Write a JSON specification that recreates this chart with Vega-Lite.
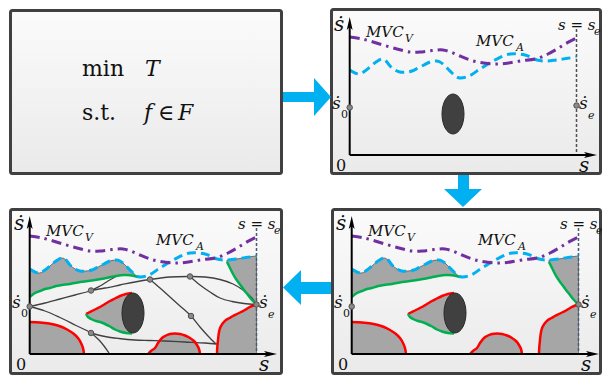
{
  "$schema": "https://vega.github.io/schema/vega-lite/v6.json",
  "width": 602,
  "height": 377,
  "padding": 0,
  "autosize": {"type": "none"},
  "config": {"view": {"stroke": null}},
  "resolve": {"scale": {"x": "independent", "y": "independent"}},
  "datasets": {
    "rects": [
      {"x": 10.5, "x2": 281.5, "y": 10.5, "y2": 173.5},
      {"x": 331.5, "x2": 600.5, "y": 9.5, "y2": 173.5},
      {"x": 10.5, "x2": 281.5, "y": 209.5, "y2": 373.5},
      {"x": 332.5, "x2": 600.5, "y": 209.5, "y2": 373.5}
    ],
    "shafts": [
      {"x": 283, "x2": 315, "y": 92, "y2": 102},
      {"x": 458, "x2": 469, "y": 175, "y2": 190},
      {"x": 300, "x2": 331, "y": 282, "y2": 294}
    ],
    "headsV": [
      {"g": 1, "x": 314, "y": 78, "y2": 116},
      {"g": 1, "x": 331, "y": 97, "y2": 97},
      {"g": 2, "x": 283, "y": 287.5, "y2": 287.5},
      {"g": 2, "x": 301, "y": 270, "y2": 305}
    ],
    "headsH": [
      {"y": 189, "x": 444, "x2": 482},
      {"y": 207, "x": 463, "x2": 463}
    ],
    "p1norm": [
      {"x": 82, "y": 76, "t": "min"},
      {"x": 82, "y": 120, "t": "s.t."},
      {"x": 158, "y": 120, "t": "∈"}
    ],
    "p1ital": [
      {"x": 145, "y": 76, "t": "T"},
      {"x": 144, "y": 120, "t": "f"},
      {"x": 178, "y": 120, "t": "F"}
    ],
    "areasV": [
      {"g": "G1", "x": 29.7, "y": 269, "y2": 297},
      {"g": "G1", "x": 35, "y": 272, "y2": 293},
      {"g": "G1", "x": 40, "y": 273, "y2": 291},
      {"g": "G1", "x": 45, "y": 270, "y2": 289},
      {"g": "G1", "x": 50, "y": 266, "y2": 288},
      {"g": "G1", "x": 56, "y": 261, "y2": 286},
      {"g": "G1", "x": 62, "y": 258, "y2": 285},
      {"g": "G1", "x": 66, "y": 260, "y2": 284.5},
      {"g": "G1", "x": 70, "y": 265, "y2": 284},
      {"g": "G1", "x": 75, "y": 269, "y2": 283},
      {"g": "G1", "x": 80, "y": 271, "y2": 282},
      {"g": "G1", "x": 86, "y": 271, "y2": 281.5},
      {"g": "G1", "x": 92, "y": 270, "y2": 280.5},
      {"g": "G1", "x": 98, "y": 267, "y2": 279.5},
      {"g": "G1", "x": 104, "y": 264, "y2": 278.5},
      {"g": "G1", "x": 110, "y": 261, "y2": 277.5},
      {"g": "G1", "x": 116, "y": 260, "y2": 276},
      {"g": "G1", "x": 120, "y": 261, "y2": 275.5},
      {"g": "G1", "x": 124, "y": 264, "y2": 275},
      {"g": "G1", "x": 128, "y": 268, "y2": 275},
      {"g": "G1", "x": 132, "y": 272, "y2": 275.5},
      {"g": "G1", "x": 136, "y": 275.5, "y2": 276.5},
      {"g": "G1", "x": 138, "y": 277, "y2": 277},
      {"g": "G2", "x": 227, "y": 260, "y2": 262},
      {"g": "G2", "x": 230, "y": 260, "y2": 268},
      {"g": "G2", "x": 233, "y": 259.5, "y2": 274},
      {"g": "G2", "x": 236, "y": 259, "y2": 279},
      {"g": "G2", "x": 240, "y": 258.5, "y2": 284.5},
      {"g": "G2", "x": 244, "y": 257.5, "y2": 290},
      {"g": "G2", "x": 248, "y": 257, "y2": 295},
      {"g": "G2", "x": 252, "y": 256.5, "y2": 300},
      {"g": "G2", "x": 256.5, "y": 256, "y2": 304.5},
      {"g": "G3", "x": 29.7, "y": 322, "y2": 354},
      {"g": "G3", "x": 40, "y": 322.5, "y2": 354},
      {"g": "G3", "x": 49, "y": 323.5, "y2": 354},
      {"g": "G3", "x": 56, "y": 325, "y2": 354},
      {"g": "G3", "x": 62, "y": 327, "y2": 354},
      {"g": "G3", "x": 68, "y": 330, "y2": 354},
      {"g": "G3", "x": 74, "y": 334, "y2": 354},
      {"g": "G3", "x": 78, "y": 338, "y2": 354},
      {"g": "G3", "x": 81, "y": 343, "y2": 354},
      {"g": "G3", "x": 83, "y": 348, "y2": 354},
      {"g": "G3", "x": 84, "y": 354, "y2": 354},
      {"g": "G4", "x": 86, "y": 314, "y2": 314},
      {"g": "G4", "x": 88, "y": 313, "y2": 317},
      {"g": "G4", "x": 92, "y": 311, "y2": 319.5},
      {"g": "G4", "x": 96, "y": 309, "y2": 321},
      {"g": "G4", "x": 100, "y": 307, "y2": 322},
      {"g": "G4", "x": 105, "y": 304, "y2": 324},
      {"g": "G4", "x": 110, "y": 301, "y2": 326.5},
      {"g": "G4", "x": 115, "y": 298.5, "y2": 329.5},
      {"g": "G4", "x": 120, "y": 296, "y2": 331.5},
      {"g": "G4", "x": 126, "y": 294, "y2": 333},
      {"g": "G4", "x": 132, "y": 293, "y2": 333.5},
      {"g": "G5", "x": 148, "y": 354, "y2": 354},
      {"g": "G5", "x": 151, "y": 351, "y2": 354},
      {"g": "G5", "x": 155, "y": 348, "y2": 354},
      {"g": "G5", "x": 158, "y": 343, "y2": 354},
      {"g": "G5", "x": 162, "y": 338, "y2": 354},
      {"g": "G5", "x": 166, "y": 335.5, "y2": 354},
      {"g": "G5", "x": 170, "y": 334, "y2": 354},
      {"g": "G5", "x": 175, "y": 333.5, "y2": 354},
      {"g": "G5", "x": 180, "y": 334, "y2": 354},
      {"g": "G5", "x": 185, "y": 335.5, "y2": 354},
      {"g": "G5", "x": 190, "y": 338, "y2": 354},
      {"g": "G5", "x": 194, "y": 341, "y2": 354},
      {"g": "G5", "x": 197, "y": 345, "y2": 354},
      {"g": "G5", "x": 199, "y": 349, "y2": 354},
      {"g": "G5", "x": 200, "y": 354, "y2": 354}
    ],
    "areasH": [
      {"y": 304.5, "x": 256.5, "x2": 256.5},
      {"y": 306, "x": 252, "x2": 256.5},
      {"y": 308, "x": 248, "x2": 256.5},
      {"y": 310, "x": 245, "x2": 256.5},
      {"y": 312, "x": 241, "x2": 256.5},
      {"y": 314, "x": 237, "x2": 256.5},
      {"y": 316, "x": 233, "x2": 256.5},
      {"y": 318, "x": 229.5, "x2": 256.5},
      {"y": 320, "x": 226, "x2": 256.5},
      {"y": 323, "x": 223, "x2": 256.5},
      {"y": 327, "x": 220.5, "x2": 256.5},
      {"y": 332, "x": 219, "x2": 256.5},
      {"y": 340, "x": 218, "x2": 256.5},
      {"y": 347, "x": 217.3, "x2": 256.5},
      {"y": 354, "x": 217, "x2": 256.5}
    ],
    "red": [
      {"g": "a", "x": 29.7, "y": 322}, {"g": "a", "x": 40, "y": 322.5}, {"g": "a", "x": 49, "y": 323.5}, {"g": "a", "x": 56, "y": 325}, {"g": "a", "x": 62, "y": 327}, {"g": "a", "x": 68, "y": 330}, {"g": "a", "x": 74, "y": 334}, {"g": "a", "x": 78, "y": 338}, {"g": "a", "x": 81, "y": 343}, {"g": "a", "x": 83, "y": 348}, {"g": "a", "x": 84, "y": 354},
      {"g": "b", "x": 86, "y": 314}, {"g": "b", "x": 88, "y": 313}, {"g": "b", "x": 92, "y": 311}, {"g": "b", "x": 96, "y": 309}, {"g": "b", "x": 100, "y": 307}, {"g": "b", "x": 105, "y": 304}, {"g": "b", "x": 110, "y": 301}, {"g": "b", "x": 115, "y": 298.5}, {"g": "b", "x": 120, "y": 296}, {"g": "b", "x": 126, "y": 294}, {"g": "b", "x": 132, "y": 293},
      {"g": "c", "x": 148, "y": 354}, {"g": "c", "x": 151, "y": 351}, {"g": "c", "x": 155, "y": 348}, {"g": "c", "x": 158, "y": 343}, {"g": "c", "x": 162, "y": 338}, {"g": "c", "x": 166, "y": 335.5}, {"g": "c", "x": 170, "y": 334}, {"g": "c", "x": 175, "y": 333.5}, {"g": "c", "x": 180, "y": 334}, {"g": "c", "x": 185, "y": 335.5}, {"g": "c", "x": 190, "y": 338}, {"g": "c", "x": 194, "y": 341}, {"g": "c", "x": 197, "y": 345}, {"g": "c", "x": 199, "y": 349}, {"g": "c", "x": 200, "y": 354},
      {"g": "d", "x": 217, "y": 354}, {"g": "d", "x": 217.3, "y": 347}, {"g": "d", "x": 218, "y": 340}, {"g": "d", "x": 219, "y": 332}, {"g": "d", "x": 220.5, "y": 327}, {"g": "d", "x": 223, "y": 323}, {"g": "d", "x": 226, "y": 320}, {"g": "d", "x": 229.5, "y": 318}, {"g": "d", "x": 233, "y": 316}, {"g": "d", "x": 237, "y": 314}, {"g": "d", "x": 241, "y": 312}, {"g": "d", "x": 245, "y": 310}, {"g": "d", "x": 248, "y": 308}, {"g": "d", "x": 252, "y": 306}, {"g": "d", "x": 256.5, "y": 304.5}
    ],
    "green": [
      {"g": "a", "x": 29.7, "y": 297}, {"g": "a", "x": 35, "y": 293}, {"g": "a", "x": 40, "y": 291}, {"g": "a", "x": 45, "y": 289}, {"g": "a", "x": 50, "y": 288}, {"g": "a", "x": 56, "y": 286}, {"g": "a", "x": 62, "y": 285}, {"g": "a", "x": 70, "y": 284}, {"g": "a", "x": 80, "y": 282}, {"g": "a", "x": 92, "y": 280.5}, {"g": "a", "x": 104, "y": 278.5}, {"g": "a", "x": 116, "y": 276}, {"g": "a", "x": 124, "y": 275}, {"g": "a", "x": 130, "y": 275.2}, {"g": "a", "x": 138, "y": 277},
      {"g": "b", "x": 227, "y": 262}, {"g": "b", "x": 230, "y": 268}, {"g": "b", "x": 233, "y": 274}, {"g": "b", "x": 236, "y": 279}, {"g": "b", "x": 240, "y": 284.5}, {"g": "b", "x": 244, "y": 290}, {"g": "b", "x": 248, "y": 295}, {"g": "b", "x": 252, "y": 300}, {"g": "b", "x": 256.5, "y": 304.5},
      {"g": "c", "x": 86, "y": 314}, {"g": "c", "x": 88, "y": 317}, {"g": "c", "x": 92, "y": 319.5}, {"g": "c", "x": 96, "y": 321}, {"g": "c", "x": 100, "y": 322}, {"g": "c", "x": 105, "y": 324}, {"g": "c", "x": 110, "y": 326.5}, {"g": "c", "x": 115, "y": 329.5}, {"g": "c", "x": 120, "y": 331.5}, {"g": "c", "x": 126, "y": 333}, {"g": "c", "x": 132, "y": 333.5}
    ],
    "traj": [
      {"g": 1, "x": 29.7, "y": 306.5}, {"g": 1, "x": 45, "y": 303}, {"g": 1, "x": 60, "y": 299}, {"g": 1, "x": 75, "y": 295}, {"g": 1, "x": 91, "y": 290.5}, {"g": 1, "x": 100, "y": 286}, {"g": 1, "x": 108, "y": 281}, {"g": 1, "x": 116, "y": 276.5},
      {"g": 2, "x": 91, "y": 290.5}, {"g": 2, "x": 105, "y": 288}, {"g": 2, "x": 120, "y": 285}, {"g": 2, "x": 135, "y": 282}, {"g": 2, "x": 150, "y": 279.5}, {"g": 2, "x": 170, "y": 277}, {"g": 2, "x": 190, "y": 276.5}, {"g": 2, "x": 205, "y": 277}, {"g": 2, "x": 220, "y": 279.5}, {"g": 2, "x": 233, "y": 284}, {"g": 2, "x": 243, "y": 290}, {"g": 2, "x": 251, "y": 297}, {"g": 2, "x": 256.5, "y": 304.5},
      {"g": 3, "x": 29.7, "y": 306.5}, {"g": 3, "x": 45, "y": 311}, {"g": 3, "x": 59, "y": 317}, {"g": 3, "x": 76, "y": 325.5}, {"g": 3, "x": 91, "y": 333}, {"g": 3, "x": 99, "y": 340}, {"g": 3, "x": 104, "y": 346}, {"g": 3, "x": 109, "y": 353},
      {"g": 4, "x": 91, "y": 333}, {"g": 4, "x": 105, "y": 336.5}, {"g": 4, "x": 119, "y": 338.5}, {"g": 4, "x": 135, "y": 340}, {"g": 4, "x": 149, "y": 340.5}, {"g": 4, "x": 165, "y": 341}, {"g": 4, "x": 185, "y": 342}, {"g": 4, "x": 205, "y": 343}, {"g": 4, "x": 217, "y": 344},
      {"g": 5, "x": 150, "y": 279.5}, {"g": 5, "x": 160, "y": 288}, {"g": 5, "x": 170, "y": 297}, {"g": 5, "x": 180, "y": 306}, {"g": 5, "x": 191, "y": 316}, {"g": 5, "x": 200, "y": 327}, {"g": 5, "x": 208, "y": 336}, {"g": 5, "x": 216, "y": 344},
      {"g": 6, "x": 190, "y": 276.5}, {"g": 6, "x": 200, "y": 285}, {"g": 6, "x": 210, "y": 292}, {"g": 6, "x": 220, "y": 298}, {"g": 6, "x": 232, "y": 301.5}, {"g": 6, "x": 244, "y": 303.5}, {"g": 6, "x": 256.5, "y": 304.5}
    ],
    "tdots": [
      {"x": 91, "y": 290.5}, {"x": 91, "y": 333}, {"x": 150, "y": 279.5}, {"x": 190, "y": 276.5}, {"x": 191, "y": 316}
    ],
    "mvca": [
      {"x": 29.7, "y": 269}, {"x": 35, "y": 272}, {"x": 40, "y": 273}, {"x": 45, "y": 270}, {"x": 50, "y": 266}, {"x": 56, "y": 261}, {"x": 62, "y": 258}, {"x": 66, "y": 260}, {"x": 70, "y": 265}, {"x": 75, "y": 269}, {"x": 80, "y": 271}, {"x": 86, "y": 271}, {"x": 92, "y": 270}, {"x": 98, "y": 267}, {"x": 104, "y": 264}, {"x": 110, "y": 261}, {"x": 116, "y": 260}, {"x": 120, "y": 261}, {"x": 124, "y": 264}, {"x": 128, "y": 268}, {"x": 132, "y": 272}, {"x": 136, "y": 275.5}, {"x": 140, "y": 277}, {"x": 149, "y": 275}, {"x": 160, "y": 268}, {"x": 175, "y": 259}, {"x": 190, "y": 253}, {"x": 205, "y": 254}, {"x": 217, "y": 259}, {"x": 227, "y": 260}, {"x": 236, "y": 259}, {"x": 246, "y": 257.5}, {"x": 256.5, "y": 256}
    ],
    "mvcv": [
      {"x": 29.7, "y": 236}, {"x": 40, "y": 237.5}, {"x": 50, "y": 240}, {"x": 63, "y": 244}, {"x": 77, "y": 248}, {"x": 90, "y": 251}, {"x": 100, "y": 251}, {"x": 112, "y": 249.5}, {"x": 123, "y": 249}, {"x": 132, "y": 251.5}, {"x": 140, "y": 255}, {"x": 150, "y": 259}, {"x": 160, "y": 261.5}, {"x": 173, "y": 263}, {"x": 185, "y": 262.5}, {"x": 200, "y": 260}, {"x": 217, "y": 257.5}, {"x": 228, "y": 253}, {"x": 237, "y": 248}, {"x": 246, "y": 242.5}, {"x": 256.5, "y": 237}
    ],
    "ell": [{"x": 133, "y": 313}],
    "vline": [{"x": 256.5, "y": 228, "x2": 256.5, "y2": 354}],
    "axes": [
      {"x": 29.7, "y": 354, "x2": 29.7, "y2": 224},
      {"x": 29.7, "y": 354, "x2": 269, "y2": 354}
    ],
    "aheads": [
      {"x": 29.7, "y": 222.5, "d": "up"},
      {"x": 270.5, "y": 354, "d": "right"}
    ],
    "dots": [{"x": 29.7, "y": 306.5}, {"x": 256.5, "y": 304.5}],
    "lbl24": [{"x": 19, "y": 230, "t": "ṡ"}, {"x": 264, "y": 371, "t": "s"}],
    "lbl17": [{"x": 46, "y": 236, "t": "MVC"}, {"x": 156, "y": 245, "t": "MVC"}, {"x": 238, "y": 229, "t": "s = s"}],
    "lblsubI": [{"x": 85, "y": 241, "t": "V"}, {"x": 196, "y": 250, "t": "A"}, {"x": 274, "y": 234, "t": "e"}, {"x": 268, "y": 318, "t": "e"}],
    "lbl21": [{"x": 12, "y": 308, "t": "ṡ"}, {"x": 259, "y": 308, "t": "ṡ"}],
    "lblsubN": [{"x": 21, "y": 317, "t": "0"}],
    "lbl0": [{"x": 16, "y": 370, "t": "0"}]
  },
  "layer": [
    {
      "encoding": {
        "x": {"field": "x", "type": "quantitative", "scale": {"domain": [0, 602], "nice": false, "zero": false}, "axis": null},
        "y": {"field": "y", "type": "quantitative", "scale": {"domain": [0, 377], "nice": false, "zero": false, "reverse": true}, "axis": null}
      },
      "layer": [
        {"data": {"name": "rects"}, "mark": {"type": "rect", "stroke": "#404040", "strokeWidth": 3, "cornerRadius": 2, "fill": {"gradient": "linear", "x1": 0, "y1": 0, "x2": 0, "y2": 1, "stops": [{"offset": 0, "color": "#fbfbfb"}, {"offset": 1, "color": "#eaeaea"}]}}, "encoding": {"x2": {"field": "x2"}, "y2": {"field": "y2"}}},
        {"data": {"name": "shafts"}, "mark": {"type": "rect", "fill": "#00b0f0"}, "encoding": {"x2": {"field": "x2"}, "y2": {"field": "y2"}}},
        {"data": {"name": "headsV"}, "mark": {"type": "area", "fill": "#00b0f0", "orient": "vertical"}, "encoding": {"y2": {"field": "y2"}, "detail": {"field": "g", "type": "nominal"}}},
        {"data": {"name": "headsH"}, "mark": {"type": "area", "fill": "#00b0f0", "orient": "horizontal"}, "encoding": {"x2": {"field": "x2"}}},
        {"data": {"name": "p1norm"}, "mark": {"type": "text", "font": "DejaVu Serif", "fontSize": 22, "align": "left", "baseline": "alphabetic", "color": "#111"}, "encoding": {"text": {"field": "t"}}},
        {"data": {"name": "p1ital"}, "mark": {"type": "text", "font": "DejaVu Serif", "fontStyle": "italic", "fontSize": 22, "align": "left", "baseline": "alphabetic", "color": "#111"}, "encoding": {"text": {"field": "t"}}}
      ]
    },
    {
      "encoding": {
        "x": {"field": "x", "type": "quantitative", "scale": {"domain": [-320, 282], "nice": false, "zero": false}, "axis": null},
        "y": {"field": "y", "type": "quantitative", "scale": {"domain": [199, 576], "nice": false, "zero": false, "reverse": true}, "axis": null}
      },
      "layer": [
        {"data": {"name": "vline"}, "mark": {"type": "rule", "color": "#505050", "strokeWidth": 1.5, "strokeDash": [3, 2]}, "encoding": {"x2": {"field": "x2"}, "y2": {"field": "y2"}}},
        {"data": {"name": "mvca"}, "mark": {"type": "line", "color": "#00b0f0", "strokeWidth": 3, "strokeDash": [9, 5], "interpolate": "catmull-rom"}},
        {"data": {"name": "mvcv"}, "mark": {"type": "line", "color": "#7030a0", "strokeWidth": 3, "strokeDash": [10, 5, 2.5, 5], "interpolate": "catmull-rom"}},
        {"data": {"name": "ell"}, "mark": {"type": "point", "shape": "M0,-1A0.55,1 0 1,1 0,1A0.55,1 0 1,1 0,-1Z", "size": 1600, "filled": true, "opacity": 1, "fill": "#404040", "stroke": "#2a2a2a", "strokeWidth": 1}},
        {"data": {"name": "axes"}, "mark": {"type": "rule", "color": "#000", "strokeWidth": 2}, "encoding": {"x2": {"field": "x2"}, "y2": {"field": "y2"}}},
        {"data": {"name": "aheads"}, "mark": {"type": "point", "filled": true, "opacity": 1, "color": "#000", "size": 169}, "encoding": {"shape": {"field": "d", "type": "nominal", "scale": {"domain": ["up", "right"], "range": ["M0,-1L0.45,1L0,0.55L-0.45,1Z", "M1,0L-1,0.45L-0.55,0L-1,-0.45Z"]}, "legend": null}}},
        {"data": {"name": "dots"}, "mark": {"type": "point", "filled": true, "opacity": 1, "fill": "#8a8a8a", "stroke": "#505050", "strokeWidth": 1, "size": 30}},
        {"data": {"name": "lbl24"}, "mark": {"type": "text", "font": "DejaVu Serif", "fontStyle": "italic", "fontSize": 20, "align": "center", "baseline": "alphabetic", "color": "#111"}, "encoding": {"text": {"field": "t"}}},
        {"data": {"name": "lbl17"}, "mark": {"type": "text", "font": "DejaVu Serif", "fontStyle": "italic", "fontSize": 15, "align": "left", "baseline": "alphabetic", "color": "#111"}, "encoding": {"text": {"field": "t"}}},
        {"data": {"name": "lblsubI"}, "mark": {"type": "text", "font": "DejaVu Serif", "fontStyle": "italic", "fontSize": 11, "align": "left", "baseline": "alphabetic", "color": "#111"}, "encoding": {"text": {"field": "t"}}},
        {"data": {"name": "lbl21"}, "mark": {"type": "text", "font": "DejaVu Serif", "fontStyle": "italic", "fontSize": 17, "align": "left", "baseline": "alphabetic", "color": "#111"}, "encoding": {"text": {"field": "t"}}},
        {"data": {"name": "lblsubN"}, "mark": {"type": "text", "font": "DejaVu Serif", "fontSize": 11, "align": "left", "baseline": "alphabetic", "color": "#111"}, "encoding": {"text": {"field": "t"}}},
        {"data": {"name": "lbl0"}, "mark": {"type": "text", "font": "DejaVu Serif", "fontSize": 16, "align": "left", "baseline": "alphabetic", "color": "#111"}, "encoding": {"text": {"field": "t"}}}
      ]
    },
    {
      "encoding": {
        "x": {"field": "x", "type": "quantitative", "scale": {"domain": [0, 602], "nice": false, "zero": false}, "axis": null},
        "y": {"field": "y", "type": "quantitative", "scale": {"domain": [0, 377], "nice": false, "zero": false, "reverse": true}, "axis": null}
      },
      "layer": [
        {"data": {"name": "areasV"}, "mark": {"type": "area", "fill": "#a6a6a6", "stroke": "#555", "strokeWidth": 0.8, "interpolate": "catmull-rom"}, "encoding": {"y2": {"field": "y2"}, "detail": {"field": "g", "type": "nominal"}}},
        {"data": {"name": "areasH"}, "mark": {"type": "area", "orient": "horizontal", "fill": "#a6a6a6", "stroke": "#555", "strokeWidth": 0.8, "interpolate": "catmull-rom"}, "encoding": {"x2": {"field": "x2"}}},
        {"data": {"name": "vline"}, "mark": {"type": "rule", "color": "#4a5a72", "strokeWidth": 1.5, "strokeDash": [3, 2]}, "encoding": {"x2": {"field": "x2"}, "y2": {"field": "y2"}}},
        {"data": {"name": "traj"}, "mark": {"type": "line", "color": "#404040", "strokeWidth": 1.3, "interpolate": "catmull-rom"}, "encoding": {"detail": {"field": "g", "type": "nominal"}}},
        {"data": {"name": "red"}, "mark": {"type": "line", "color": "#ff0000", "strokeWidth": 2.5, "interpolate": "catmull-rom"}, "encoding": {"detail": {"field": "g", "type": "nominal"}}},
        {"data": {"name": "green"}, "mark": {"type": "line", "color": "#00b050", "strokeWidth": 2.5, "interpolate": "catmull-rom"}, "encoding": {"detail": {"field": "g", "type": "nominal"}}},
        {"data": {"name": "mvca"}, "mark": {"type": "line", "color": "#00b0f0", "strokeWidth": 3, "strokeDash": [9, 5], "interpolate": "catmull-rom"}},
        {"data": {"name": "mvcv"}, "mark": {"type": "line", "color": "#7030a0", "strokeWidth": 3, "strokeDash": [10, 5, 2.5, 5], "interpolate": "catmull-rom"}},
        {"data": {"name": "ell"}, "mark": {"type": "point", "shape": "M0,-1A0.55,1 0 1,1 0,1A0.55,1 0 1,1 0,-1Z", "size": 1600, "filled": true, "opacity": 1, "fill": "#404040", "stroke": "#2a2a2a", "strokeWidth": 1}},
        {"data": {"name": "axes"}, "mark": {"type": "rule", "color": "#000", "strokeWidth": 2}, "encoding": {"x2": {"field": "x2"}, "y2": {"field": "y2"}}},
        {"data": {"name": "aheads"}, "mark": {"type": "point", "filled": true, "opacity": 1, "color": "#000", "size": 169}, "encoding": {"shape": {"field": "d", "type": "nominal", "scale": {"domain": ["up", "right"], "range": ["M0,-1L0.45,1L0,0.55L-0.45,1Z", "M1,0L-1,0.45L-0.55,0L-1,-0.45Z"]}, "legend": null}}},
        {"data": {"name": "tdots"}, "mark": {"type": "point", "filled": true, "opacity": 1, "fill": "#8a8a8a", "stroke": "#505050", "strokeWidth": 1, "size": 30}},
        {"data": {"name": "dots"}, "mark": {"type": "point", "filled": true, "opacity": 1, "fill": "#8a8a8a", "stroke": "#505050", "strokeWidth": 1, "size": 30}},
        {"data": {"name": "lbl24"}, "mark": {"type": "text", "font": "DejaVu Serif", "fontStyle": "italic", "fontSize": 20, "align": "center", "baseline": "alphabetic", "color": "#111"}, "encoding": {"text": {"field": "t"}}},
        {"data": {"name": "lbl17"}, "mark": {"type": "text", "font": "DejaVu Serif", "fontStyle": "italic", "fontSize": 15, "align": "left", "baseline": "alphabetic", "color": "#111"}, "encoding": {"text": {"field": "t"}}},
        {"data": {"name": "lblsubI"}, "mark": {"type": "text", "font": "DejaVu Serif", "fontStyle": "italic", "fontSize": 11, "align": "left", "baseline": "alphabetic", "color": "#111"}, "encoding": {"text": {"field": "t"}}},
        {"data": {"name": "lbl21"}, "mark": {"type": "text", "font": "DejaVu Serif", "fontStyle": "italic", "fontSize": 17, "align": "left", "baseline": "alphabetic", "color": "#111"}, "encoding": {"text": {"field": "t"}}},
        {"data": {"name": "lblsubN"}, "mark": {"type": "text", "font": "DejaVu Serif", "fontSize": 11, "align": "left", "baseline": "alphabetic", "color": "#111"}, "encoding": {"text": {"field": "t"}}},
        {"data": {"name": "lbl0"}, "mark": {"type": "text", "font": "DejaVu Serif", "fontSize": 16, "align": "left", "baseline": "alphabetic", "color": "#111"}, "encoding": {"text": {"field": "t"}}}
      ]
    },
    {
      "encoding": {
        "x": {"field": "x", "type": "quantitative", "scale": {"domain": [-322, 280], "nice": false, "zero": false}, "axis": null},
        "y": {"field": "y", "type": "quantitative", "scale": {"domain": [0, 377], "nice": false, "zero": false, "reverse": true}, "axis": null}
      },
      "layer": [
        {"data": {"name": "areasV"}, "mark": {"type": "area", "fill": "#a6a6a6", "stroke": "#555", "strokeWidth": 0.8, "interpolate": "catmull-rom"}, "encoding": {"y2": {"field": "y2"}, "detail": {"field": "g", "type": "nominal"}}},
        {"data": {"name": "areasH"}, "mark": {"type": "area", "orient": "horizontal", "fill": "#a6a6a6", "stroke": "#555", "strokeWidth": 0.8, "interpolate": "catmull-rom"}, "encoding": {"x2": {"field": "x2"}}},
        {"data": {"name": "vline"}, "mark": {"type": "rule", "color": "#4a5a72", "strokeWidth": 1.5, "strokeDash": [3, 2]}, "encoding": {"x2": {"field": "x2"}, "y2": {"field": "y2"}}},
        {"data": {"name": "red"}, "mark": {"type": "line", "color": "#ff0000", "strokeWidth": 2.5, "interpolate": "catmull-rom"}, "encoding": {"detail": {"field": "g", "type": "nominal"}}},
        {"data": {"name": "green"}, "mark": {"type": "line", "color": "#00b050", "strokeWidth": 2.5, "interpolate": "catmull-rom"}, "encoding": {"detail": {"field": "g", "type": "nominal"}}},
        {"data": {"name": "mvca"}, "mark": {"type": "line", "color": "#00b0f0", "strokeWidth": 3, "strokeDash": [9, 5], "interpolate": "catmull-rom"}},
        {"data": {"name": "mvcv"}, "mark": {"type": "line", "color": "#7030a0", "strokeWidth": 3, "strokeDash": [10, 5, 2.5, 5], "interpolate": "catmull-rom"}},
        {"data": {"name": "ell"}, "mark": {"type": "point", "shape": "M0,-1A0.55,1 0 1,1 0,1A0.55,1 0 1,1 0,-1Z", "size": 1600, "filled": true, "opacity": 1, "fill": "#404040", "stroke": "#2a2a2a", "strokeWidth": 1}},
        {"data": {"name": "axes"}, "mark": {"type": "rule", "color": "#000", "strokeWidth": 2}, "encoding": {"x2": {"field": "x2"}, "y2": {"field": "y2"}}},
        {"data": {"name": "aheads"}, "mark": {"type": "point", "filled": true, "opacity": 1, "color": "#000", "size": 169}, "encoding": {"shape": {"field": "d", "type": "nominal", "scale": {"domain": ["up", "right"], "range": ["M0,-1L0.45,1L0,0.55L-0.45,1Z", "M1,0L-1,0.45L-0.55,0L-1,-0.45Z"]}, "legend": null}}},
        {"data": {"name": "dots"}, "mark": {"type": "point", "filled": true, "opacity": 1, "fill": "#8a8a8a", "stroke": "#505050", "strokeWidth": 1, "size": 30}},
        {"data": {"name": "lbl24"}, "mark": {"type": "text", "font": "DejaVu Serif", "fontStyle": "italic", "fontSize": 20, "align": "center", "baseline": "alphabetic", "color": "#111"}, "encoding": {"text": {"field": "t"}}},
        {"data": {"name": "lbl17"}, "mark": {"type": "text", "font": "DejaVu Serif", "fontStyle": "italic", "fontSize": 15, "align": "left", "baseline": "alphabetic", "color": "#111"}, "encoding": {"text": {"field": "t"}}},
        {"data": {"name": "lblsubI"}, "mark": {"type": "text", "font": "DejaVu Serif", "fontStyle": "italic", "fontSize": 11, "align": "left", "baseline": "alphabetic", "color": "#111"}, "encoding": {"text": {"field": "t"}}},
        {"data": {"name": "lbl21"}, "mark": {"type": "text", "font": "DejaVu Serif", "fontStyle": "italic", "fontSize": 17, "align": "left", "baseline": "alphabetic", "color": "#111"}, "encoding": {"text": {"field": "t"}}},
        {"data": {"name": "lblsubN"}, "mark": {"type": "text", "font": "DejaVu Serif", "fontSize": 11, "align": "left", "baseline": "alphabetic", "color": "#111"}, "encoding": {"text": {"field": "t"}}},
        {"data": {"name": "lbl0"}, "mark": {"type": "text", "font": "DejaVu Serif", "fontSize": 16, "align": "left", "baseline": "alphabetic", "color": "#111"}, "encoding": {"text": {"field": "t"}}}
      ]
    }
  ]
}
